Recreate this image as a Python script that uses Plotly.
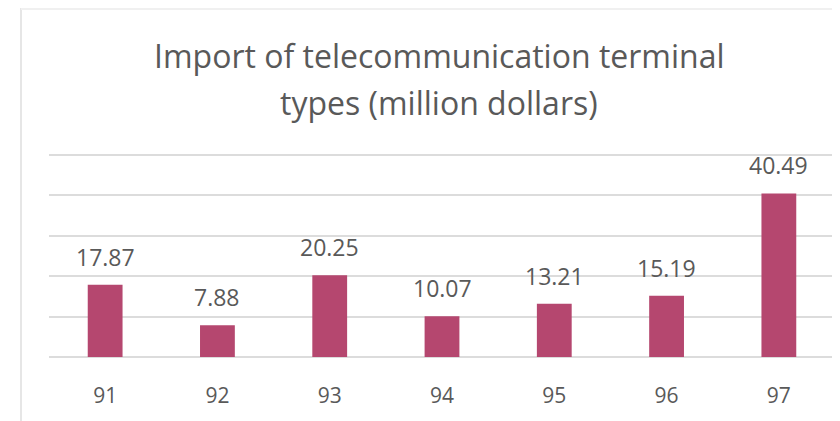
import plotly.graph_objects as go

categories = ["91", "92", "93", "94", "95", "96", "97"]
values = [17.87, 7.88, 20.25, 10.07, 13.21, 15.19, 40.49]
value_labels = ["17.87", "7.88", "20.25", "10.07", "13.21", "15.19", "40.49"]
title_lines = ["Import of telecommunication terminal", "types (million dollars)"]

BAR = "#b5476f"
TXT = "#595959"
FONT = "Open Sans"

# figure is drawn inside the page body (8px default margin), so sizes are offset
W, H = 832, 413
L, R, T, B = 41, 5, 146, 63
pw, ph = W - L - R, H - T - B

fig = go.Figure(go.Bar(
    x=list(range(len(categories))), y=values,
    marker=dict(color=BAR, line=dict(width=0)),
    hoverinfo="skip",
))

annotations = []
for i, (v, lab) in enumerate(zip(values, value_labels)):
    annotations.append(dict(
        x=i, y=v, xref="x", yref="y", text=lab, showarrow=False,
        yanchor="middle", yshift=28,
        font=dict(family=FONT, size=23, color=TXT),
    ))

for txt, py in zip(title_lines, [48, 94]):
    annotations.append(dict(
        x=(431 - L) / pw, y=(H - B - py) / ph, xref="paper", yref="paper",
        text=txt, showarrow=False, xanchor="center", yanchor="middle",
        font=dict(family=FONT, size=32, color=TXT),
    ))

fig.update_layout(
    width=W, height=H,
    margin=dict(l=L, r=R, t=T, b=B),
    paper_bgcolor="white", plot_bgcolor="white",
    showlegend=False,
    bargap=0.69,
    annotations=annotations,
    xaxis=dict(
        range=[-0.5, len(categories) - 0.5],
        tickmode="array", tickvals=list(range(len(categories))), ticktext=categories,
        showgrid=False, zeroline=False, showline=False,
        ticks="", ticklabelstandoff=23,
        tickfont=dict(family=FONT, size=21, color=TXT),
    ),
    yaxis=dict(
        range=[-0.25, 50.25], tickvals=[0, 10, 20, 30, 40, 50], showticklabels=False,
        showgrid=True, gridcolor="#dcdcdc", gridwidth=2,
        zeroline=False, showline=False,
    ),
    shapes=[
        dict(type="line", xref="paper", yref="paper",
             x0=(13 - L) / pw, x1=(13 - L) / pw,
             y0=-B / ph, y1=(H - B) / ph,
             line=dict(color="#e6e6e6", width=2)),
        dict(type="line", xref="paper", yref="paper",
             x0=(13 - L) / pw, x1=(W - L) / pw,
             y0=(H - B - 1) / ph, y1=(H - B - 1) / ph,
             line=dict(color="#f0f0f0", width=2)),
    ],
)

fig.write_html("out.html")
